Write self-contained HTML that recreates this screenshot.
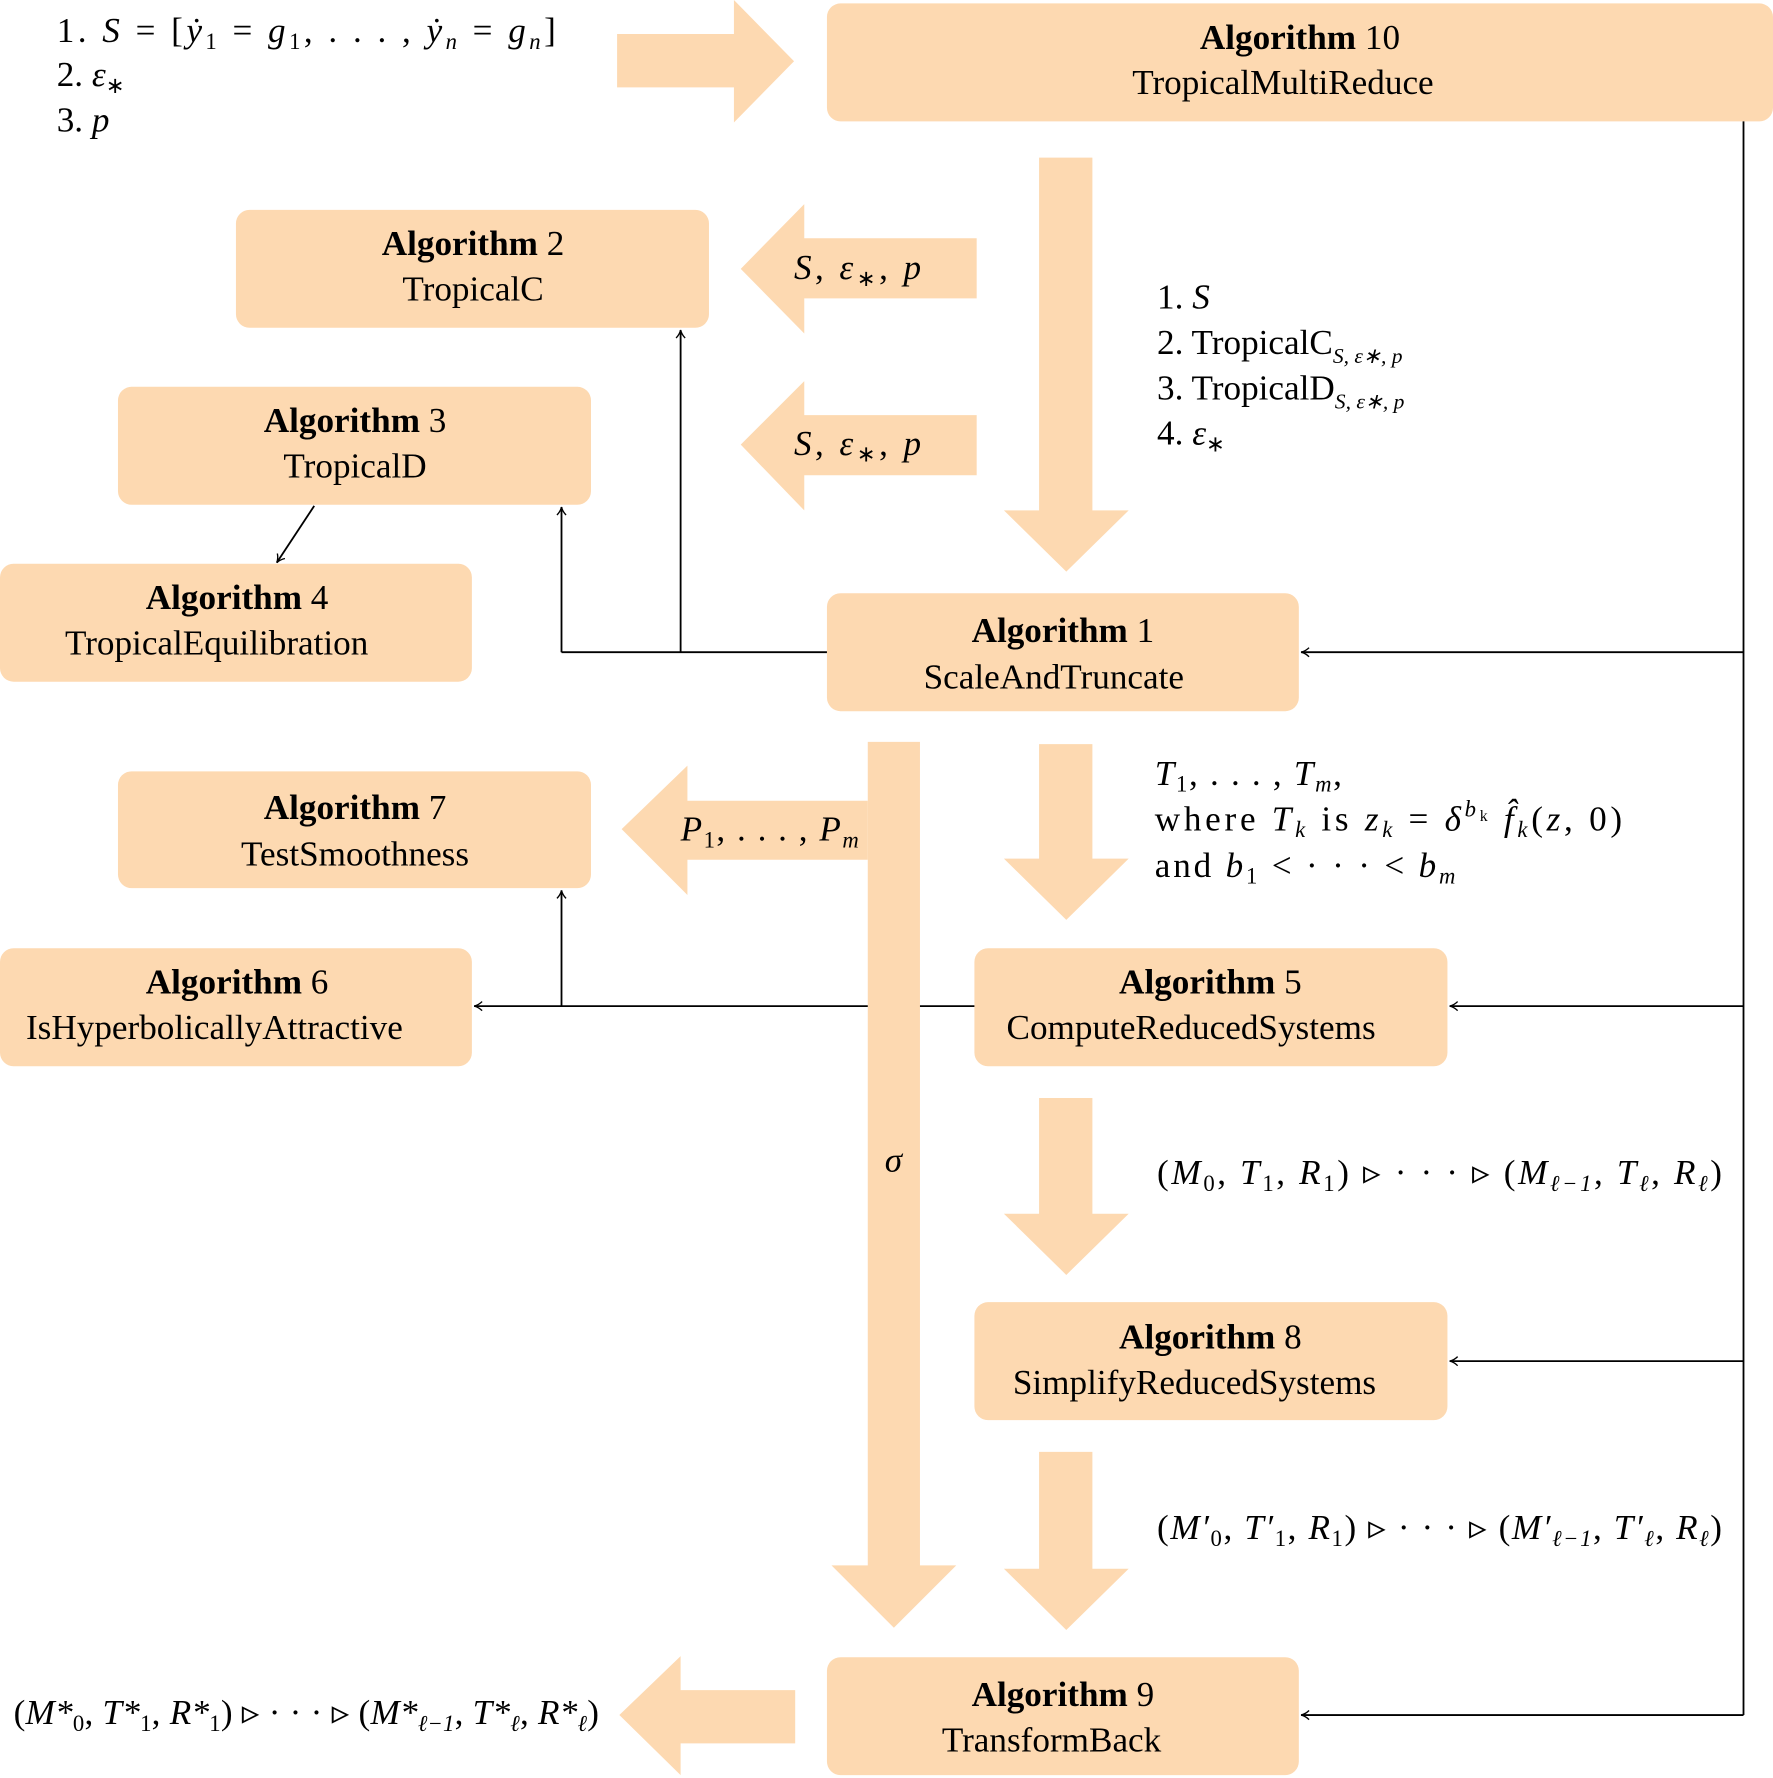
<!DOCTYPE html>
<html><head><meta charset="utf-8"><style>html,body{margin:0;padding:0;background:#fff}svg{display:block}</style></head>
<body>
<svg width="1773" height="1778" viewBox="0 0 1563 1567.5" preserveAspectRatio="none" xmlns="http://www.w3.org/2000/svg" font-family="Liberation Serif, serif" font-size="31">
<defs>
<marker id="a" markerWidth="10" markerHeight="10" refX="8" refY="5" orient="auto" markerUnits="userSpaceOnUse"><path d="M1,1 Q4,4 8,5 Q4,6 1,9" fill="none" stroke="#000" stroke-width="1.2"/></marker>
</defs>
<g fill="#FDD9B1">
<rect x="729" y="3" width="834" height="104" rx="12"/>
<rect x="208" y="185" width="417" height="104" rx="12"/>
<rect x="104" y="341" width="417" height="104" rx="12"/>
<rect x="0" y="497" width="416" height="104" rx="12"/>
<rect x="729" y="523" width="416" height="104" rx="12"/>
<rect x="104" y="680" width="417" height="103" rx="12"/>
<rect x="0" y="836" width="416" height="104" rx="12"/>
<rect x="859" y="836" width="417" height="104" rx="12"/>
<rect x="859" y="1148" width="417" height="104" rx="12"/>
<rect x="729" y="1461" width="416" height="104" rx="12"/>
<path d="M544,30 H647 V0 L700,54 L647,108 V77 H544 Z"/>
<path d="M916,139 H963 V450 H995 L940,504 L885,450 H916 Z"/>
<path d="M861,210 H709 V180 L653,237 L709,294 V263 H861 Z"/>
<path d="M861,366 H709 V336 L653,392 L709,450 V419 H861 Z"/>
<path d="M916,656 H963 V757 H995 L940,811 L885,757 H916 Z"/>
<path d="M765,654 H811 V1380 H843 L788,1435 L733,1380 H765 Z"/>
<path d="M765,706 H606 V675 L548,731 L606,789 V758 H765 Z"/>
<path d="M916,968 H963 V1070 H995 L940,1124 L885,1070 H916 Z"/>
<path d="M916,1280 H963 V1383 H995 L940,1437 L885,1383 H916 Z"/>
<path d="M701,1490 H600 V1460 L546,1512 L600,1565 V1537 H701 Z"/>
</g>
<g stroke="#000" stroke-width="1.6" fill="none">
<path d="M1537,107 V1512"/>
<path d="M1537,575 H1147" marker-end="url(#a)"/>
<path d="M1537,887 H1278" marker-end="url(#a)"/>
<path d="M1537,1200 H1278" marker-end="url(#a)"/>
<path d="M1537,1512 H1147" marker-end="url(#a)"/>
<path d="M729,575 H495"/>
<path d="M600,575 V291" marker-end="url(#a)"/>
<path d="M495,575 V447" marker-end="url(#a)"/>
<path d="M277,446 L244,496" marker-end="url(#a)"/>
<path d="M765,887 H418" marker-end="url(#a)"/>
<path d="M811,887 H859"/>
<path d="M495,887 V785" marker-end="url(#a)"/>
</g>
<g text-anchor="middle">
<text x="1146" y="43"><tspan font-weight="bold">Algorithm</tspan>   10</text><text x="1131" y="83">TropicalMultiReduce</text>
<text x="417" y="225"><tspan font-weight="bold">Algorithm</tspan>   2</text><text x="417" y="265">TropicalC</text>
<text x="313" y="381"><tspan font-weight="bold">Algorithm</tspan>   3</text><text x="313" y="421">TropicalD</text>
<text x="209" y="537"><tspan font-weight="bold">Algorithm</tspan>   4</text><text x="191" y="577">TropicalEquilibration</text>
<text x="937" y="566"><tspan font-weight="bold">Algorithm</tspan>   1</text><text x="929" y="607">ScaleAndTruncate</text>
<text x="313" y="722"><tspan font-weight="bold">Algorithm</tspan>   7</text><text x="313" y="763">TestSmoothness</text>
<text x="209" y="876"><tspan font-weight="bold">Algorithm</tspan>   6</text><text x="189" y="916">IsHyperbolicallyAttractive</text>
<text x="1067" y="876"><tspan font-weight="bold">Algorithm</tspan>   5</text><text x="1050" y="916">ComputeReducedSystems</text>
<text x="1067" y="1189"><tspan font-weight="bold">Algorithm</tspan>   8</text><text x="1053" y="1229">SimplifyReducedSystems</text>
<text x="937" y="1504"><tspan font-weight="bold">Algorithm</tspan>   9</text><text x="927" y="1544">TransformBack</text>
</g>
<g>
<text x="50" y="37" textLength="440" lengthAdjust="spacing">1.  <tspan font-style="italic">S</tspan> = [<tspan font-style="italic">ẏ</tspan><tspan font-size="20" dy="6">1</tspan><tspan dy="-6"> = </tspan><tspan font-style="italic">g</tspan><tspan font-size="20" dy="6">1</tspan><tspan dy="-6">, . . . ,  </tspan><tspan font-style="italic">ẏ<tspan font-size="20" dy="6">n</tspan></tspan><tspan dy="-6"> = </tspan><tspan font-style="italic">g</tspan><tspan font-size="20" dy="6" font-style="italic">n</tspan><tspan dy="-6">]</tspan></text>
<text x="50" y="76">2.  <tspan font-style="italic">ε</tspan><tspan font-size="20" dy="6">∗</tspan></text>
<text x="50" y="116">3.  <tspan font-style="italic">p</tspan></text>
<text x="700" y="246" font-style="italic" textLength="112" lengthAdjust="spacing">S<tspan font-style="normal">, </tspan>ε<tspan font-size="20" dy="6" font-style="normal">∗</tspan><tspan dy="-6" font-style="normal">, </tspan>p</text>
<text x="700" y="401" font-style="italic" textLength="112" lengthAdjust="spacing">S<tspan font-style="normal">, </tspan>ε<tspan font-size="20" dy="6" font-style="normal">∗</tspan><tspan dy="-6" font-style="normal">, </tspan>p</text>
<text x="1020" y="272">1.  <tspan font-style="italic">S</tspan></text>
<text x="1020" y="312">2.  TropicalC<tspan font-size="19" font-style="italic" dy="8">S, ε∗, p</tspan></text>
<text x="1020" y="352">3.  TropicalD<tspan font-size="19" font-style="italic" dy="8">S, ε∗, p</tspan></text>
<text x="1020" y="392">4.  <tspan font-style="italic">ε</tspan><tspan font-size="20" dy="6">∗</tspan></text>
<text x="1018" y="692" textLength="165" lengthAdjust="spacing"><tspan font-style="italic">T</tspan><tspan font-size="20" dy="6">1</tspan><tspan dy="-6">, . . . , </tspan><tspan font-style="italic">T</tspan><tspan font-size="20" dy="6" font-style="italic">m</tspan><tspan dy="-6">,</tspan></text>
<text x="1018" y="732" textLength="412" lengthAdjust="spacing">where  <tspan font-style="italic">T</tspan><tspan font-size="20" dy="6" font-style="italic">k</tspan><tspan dy="-6">  is  </tspan><tspan font-style="italic">z</tspan><tspan font-size="20" dy="6" font-style="italic">k</tspan><tspan dy="-6"> = </tspan><tspan font-style="italic">δ</tspan><tspan font-size="20" dy="-12" font-style="italic">b</tspan><tspan font-size="14" dy="4">k</tspan><tspan dy="8">  </tspan><tspan font-style="italic">f̂</tspan><tspan font-size="20" dy="6" font-style="italic">k</tspan><tspan dy="-6">(</tspan><tspan font-style="italic">z</tspan>, 0)</text>
<text x="1018" y="773" textLength="265" lengthAdjust="spacing">and  <tspan font-style="italic">b</tspan><tspan font-size="20" dy="6">1</tspan><tspan dy="-6"> &lt; · · · &lt; </tspan><tspan font-style="italic">b</tspan><tspan font-size="20" dy="6" font-style="italic">m</tspan></text>
<text x="600" y="741" textLength="157" lengthAdjust="spacing"><tspan font-style="italic">P</tspan><tspan font-size="20" dy="6">1</tspan><tspan dy="-6">, . . . , </tspan><tspan font-style="italic">P</tspan><tspan font-size="20" dy="6" font-style="italic">m</tspan></text>
<text x="780" y="1033" font-style="italic">σ</text>
<text x="1020" y="1044" textLength="498" lengthAdjust="spacing">(<tspan font-style="italic">M</tspan><tspan font-size="20" dy="6">0</tspan><tspan dy="-6">, </tspan><tspan font-style="italic">T</tspan><tspan font-size="20" dy="6">1</tspan><tspan dy="-6">, </tspan><tspan font-style="italic">R</tspan><tspan font-size="20" dy="6">1</tspan><tspan dy="-6">) ▹ · · · ▹ (</tspan><tspan font-style="italic">M</tspan><tspan font-size="20" dy="6" font-style="italic">ℓ−1</tspan><tspan dy="-6">, </tspan><tspan font-style="italic">T</tspan><tspan font-size="20" dy="6" font-style="italic">ℓ</tspan><tspan dy="-6">, </tspan><tspan font-style="italic">R</tspan><tspan font-size="20" dy="6" font-style="italic">ℓ</tspan><tspan dy="-6">)</tspan></text>
<text x="1020" y="1357" textLength="498" lengthAdjust="spacing">(<tspan font-style="italic">M′</tspan><tspan font-size="20" dy="6">0</tspan><tspan dy="-6">, </tspan><tspan font-style="italic">T′</tspan><tspan font-size="20" dy="6">1</tspan><tspan dy="-6">, </tspan><tspan font-style="italic">R</tspan><tspan font-size="20" dy="6">1</tspan><tspan dy="-6">) ▹ · · · ▹ (</tspan><tspan font-style="italic">M′</tspan><tspan font-size="20" dy="6" font-style="italic">ℓ−1</tspan><tspan dy="-6">, </tspan><tspan font-style="italic">T′</tspan><tspan font-size="20" dy="6" font-style="italic">ℓ</tspan><tspan dy="-6">, </tspan><tspan font-style="italic">R</tspan><tspan font-size="20" dy="6" font-style="italic">ℓ</tspan><tspan dy="-6">)</tspan></text>
<text x="12" y="1520" textLength="516" lengthAdjust="spacing">(<tspan font-style="italic">M*</tspan><tspan font-size="20" dy="6">0</tspan><tspan dy="-6">, </tspan><tspan font-style="italic">T*</tspan><tspan font-size="20" dy="6">1</tspan><tspan dy="-6">, </tspan><tspan font-style="italic">R*</tspan><tspan font-size="20" dy="6">1</tspan><tspan dy="-6">) ▹ · · · ▹ (</tspan><tspan font-style="italic">M*</tspan><tspan font-size="20" dy="6" font-style="italic">ℓ−1</tspan><tspan dy="-6">, </tspan><tspan font-style="italic">T*</tspan><tspan font-size="20" dy="6" font-style="italic">ℓ</tspan><tspan dy="-6">, </tspan><tspan font-style="italic">R*</tspan><tspan font-size="20" dy="6" font-style="italic">ℓ</tspan><tspan dy="-6">)</tspan></text>
</g>
</svg>
</body></html>
